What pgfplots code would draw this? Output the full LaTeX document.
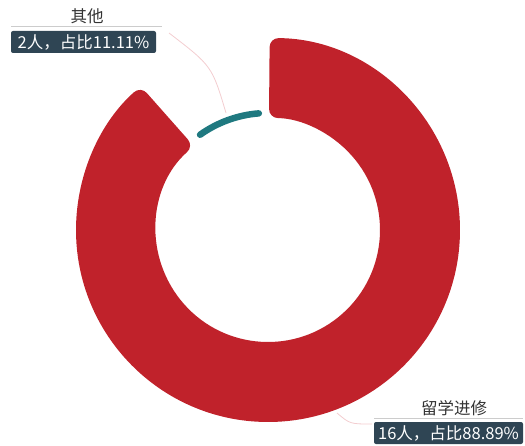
\documentclass[border=0pt]{standalone}
\usepackage{pgfplots}
\usepackage{pgfplotstable}
\pgfplotsset{compat=1.18}
\usepackage{fontspec}
\setmainfont{Noto Sans CJK SC}

\definecolor{ringred}{RGB}{192,34,43}
\definecolor{ringteal}{RGB}{31,121,128}
\definecolor{boxdark}{RGB}{47,69,84}
\definecolor{leader}{RGB}{243,205,208}
\definecolor{rule}{RGB}{204,204,204}
\definecolor{txt}{RGB}{51,51,51}

% one row per slice
\pgfplotstableread{
name value
A 16
B 2
}\slices

\begin{document}
\begin{tikzpicture}
\pgfplotstablegetelem{0}{value}\of\slices \let\va\pgfplotsretval
\pgfplotstablegetelem{1}{value}\of\slices \let\vb\pgfplotsretval
\pgfmathsetmacro\tot{\va+\vb}
% clockwise from 12 o'clock
\pgfmathsetmacro\aStart{90-0.5}
\pgfmathsetmacro\aEnd{90-360*\va/\tot+1.5}
\pgfmathsetmacro\bStart{90-360*\va/\tot-4.5}
\pgfmathsetmacro\bEnd{90-360*\tot/\tot+4.5}
\begin{axis}[
    width=525bp, height=446bp, scale only axis,
    xmin=0, xmax=525, ymin=0, ymax=446,
    y dir=reverse,
    hide axis, clip=false,
]
\fill[ringred, rounded corners=9bp, shift={(axis cs:268,230)}]
    (\aStart:192bp) arc[start angle=\aStart, end angle=\aEnd, radius=192bp]
    -- (\aEnd:112bp) arc[start angle=\aEnd, end angle=\aStart, radius=112bp]
    -- cycle;
\draw[ringteal, line width=6.5bp, line cap=round, shift={(axis cs:268,230)}]
    (\bStart:117bp) arc[start angle=\bStart, end angle=\bEnd, radius=117bp];

% leader lines
\draw[leader, line width=0.8bp] (axis cs:226,113) .. controls (axis cs:212,66) .. (axis cs:169,33);
\draw[leader, line width=0.8bp] (axis cs:337,413) .. controls (axis cs:350,424) .. (axis cs:372,424);

% upper label
\node[txt, font=\fontsize{16.5bp}{18bp}\selectfont] at (axis cs:87,16) {其他};
\draw[rule, line width=1bp] (axis cs:11,26.5) -- (axis cs:162,26.5);
\fill[boxdark, rounded corners=2bp] (axis cs:11,31) rectangle (axis cs:156,53);
\node[white, font=\fontsize{16.5bp}{18bp}\selectfont] at (axis cs:83.5,42) {2人，占比11.11\%};

% lower label
\node[txt, font=\fontsize{16.5bp}{18bp}\selectfont] at (axis cs:454,408) {留学进修};
\draw[rule, line width=1bp] (axis cs:374,418.5) -- (axis cs:523,418.5);
\fill[boxdark, rounded corners=2bp] (axis cs:374,422) rectangle (axis cs:523,444);
\node[white, font=\fontsize{16.5bp}{18bp}\selectfont] at (axis cs:448.5,433) {16人，占比88.89\%};
\end{axis}
\pgfresetboundingbox
\path (current axis.south west) rectangle (current axis.north east);
\end{tikzpicture}
\end{document}
